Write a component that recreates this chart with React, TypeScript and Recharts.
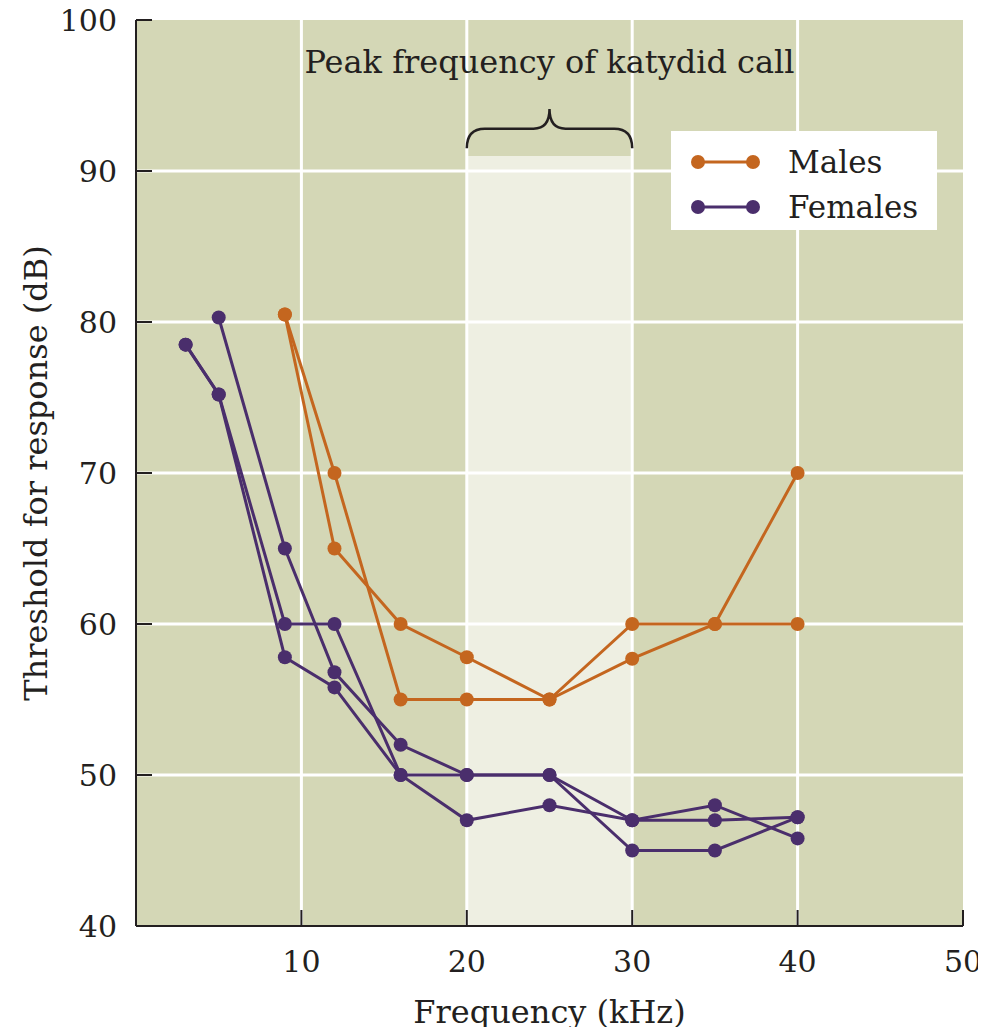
import { LineChart, Line, XAxis, YAxis, CartesianGrid, ReferenceArea } from 'recharts';

const FONT = '"DejaVu Serif", serif';
const INK = '#231f20';
const MALE_COLOR = '#c4661f';
const FEMALE_COLOR = '#4a2e6c';
const PLOT_BG = '#d4d7b6';

// frequency (kHz) / threshold (dB) for each run
const maleFreqs = [9, 12, 16, 20, 25, 30, 35, 40];
const maleRunA = [80.5, 70, 55, 55, 55, 57.7, 60, 70];
const maleRunB = [80.5, 65, 60, 57.8, 55, 60, 60, 60];

const femaleFreqsAB = [3, 5, 9, 12, 16, 20, 25, 30, 35, 40];
const femaleRunA = [78.5, 75.2, 60, 60, 50, 50, 50, 47, 48, 45.8];
const femaleRunB = [78.5, 75.2, 57.8, 55.8, 50, 47, 48, 47, 47, 47.2];
const femaleFreqsC = [5, 9, 12, 16, 20, 25, 30, 35, 40];
const femaleRunC = [80.3, 65, 56.8, 52, 50, 50, 45, 45, 47.2];

const xTicks = [10, 20, 30, 40, 50];
const yTicks = [40, 50, 60, 70, 80, 90, 100];
const gridX = [10, 20, 30, 40];
const gridY = [50, 60, 70, 80, 90];

// katydid call band
const peakBand = [20, 30];
const bandTop = 91;
const braceRange = [91.5, 94.1];

const legendItems = [
    { name: 'Males', color: MALE_COLOR },
    { name: 'Females', color: FEMALE_COLOR },
];

const toPoints = (freqs: number[], values: number[]) =>
    freqs.map((x, i) => ({ x, y: values[i] }));

const runs = [
    { key: 'm1', color: MALE_COLOR, data: toPoints(maleFreqs, maleRunA) },
    { key: 'm2', color: MALE_COLOR, data: toPoints(maleFreqs, maleRunB) },
    { key: 'f1', color: FEMALE_COLOR, data: toPoints(femaleFreqsAB, femaleRunA) },
    { key: 'f2', color: FEMALE_COLOR, data: toPoints(femaleFreqsAB, femaleRunB) },
    { key: 'f3', color: FEMALE_COLOR, data: toPoints(femaleFreqsC, femaleRunC) },
];

const W = 986;
const H = 1035;
const TICK_LEN = 16;
const X_MARGIN = 24;
const Y_MARGIN = 19;

const XTick = ({ x, y, payload }: any) => (
    <g>
        <line x1={x} x2={x} y1={y - X_MARGIN} y2={y - X_MARGIN - TICK_LEN} stroke={INK} strokeWidth={2} />
        <text x={x} y={y} dy="0.74em" textAnchor="middle" fontFamily={FONT} fontSize={30} fill={INK}>
            {payload.value}
        </text>
    </g>
);

const YTick = ({ x, y, payload }: any) => (
    <g>
        <line x1={x + Y_MARGIN} x2={x + Y_MARGIN + TICK_LEN} y1={y} y2={y} stroke={INK} strokeWidth={2} />
        <text x={x} y={y} dy="0.36em" textAnchor="end" fontFamily={FONT} fontSize={30} fill={INK}>
            {payload.value}
        </text>
    </g>
);

const Brace = ({ x, y, width, height }: any) => {
    const cx = x + width / 2;
    const mid = y + height / 2;
    const bottom = y + height;
    const d = `M${x},${bottom} Q${x},${mid} ${x + 18},${mid} L${cx - 16},${mid} Q${cx},${mid} ${cx},${y}`
        + ` Q${cx},${mid} ${cx + 16},${mid} L${x + width - 18},${mid} Q${x + width},${mid} ${x + width},${bottom}`;
    return (
        <g>
            <path d={d} fill="none" stroke={INK} strokeWidth={2.5} />
            <text x={cx} y={y - 36} textAnchor="middle" fontFamily={FONT} fontSize={32} fill={INK}>
                Peak frequency of katydid call
            </text>
        </g>
    );
};

export default function App() {
    return (
        <div style={{ position: 'relative', width: W, height: H, margin: -8 }}>
            <LineChart width={W} height={H} margin={{ top: 20, right: 23, left: 0, bottom: 0 }}>
                <CartesianGrid
                    fill={PLOT_BG}
                    fillOpacity={1}
                    stroke="#ffffff"
                    strokeWidth={3}
                    horizontalValues={gridY}
                    verticalValues={gridX}
                />
                <XAxis
                    type="number"
                    dataKey="x"
                    domain={[0, 50]}
                    ticks={xTicks}
                    height={109}
                    tickSize={0}
                    tickMargin={X_MARGIN}
                    tickLine={false}
                    tick={XTick}
                    axisLine={{ stroke: INK, strokeWidth: 2 }}
                    label={{
                        content: ({ viewBox }: any) => (
                            <text
                                x={viewBox.x + viewBox.width / 2}
                                y={1023}
                                textAnchor="middle"
                                fontFamily={FONT}
                                fontSize={32}
                                fill={INK}
                            >
                                Frequency (kHz)
                            </text>
                        ),
                    }}
                />
                <YAxis
                    type="number"
                    dataKey="y"
                    domain={[40, 100]}
                    ticks={yTicks}
                    width={136}
                    tickSize={0}
                    tickMargin={Y_MARGIN}
                    tickLine={false}
                    tick={YTick}
                    axisLine={{ stroke: INK, strokeWidth: 2 }}
                    label={{
                        content: ({ viewBox }: any) => {
                            const cy = viewBox.y + viewBox.height / 2;
                            return (
                                <text
                                    x={36}
                                    y={cy}
                                    transform={`rotate(-90, 36, ${cy})`}
                                    textAnchor="middle"
                                    dominantBaseline="central"
                                    fontFamily={FONT}
                                    fontSize={32}
                                    fill={INK}
                                >
                                    Threshold for response (dB)
                                </text>
                            );
                        },
                    }}
                />
                <ReferenceArea
                    x1={peakBand[0]}
                    x2={peakBand[1]}
                    y1={40}
                    y2={bandTop}
                    fill="#ffffff"
                    fillOpacity={0.6}
                    stroke="none"
                />
                <ReferenceArea
                    x1={peakBand[0]}
                    x2={peakBand[1]}
                    y1={braceRange[0]}
                    y2={braceRange[1]}
                    shape={Brace}
                />
                {runs.map((run) => (
                    <Line
                        key={run.key}
                        data={run.data}
                        dataKey="y"
                        stroke={run.color}
                        strokeWidth={3}
                        dot={{ r: 7, fill: run.color, stroke: run.color, strokeWidth: 0 }}
                        activeDot={false}
                        isAnimationActive={false}
                    />
                ))}
            </LineChart>

            {/* Legend */}
            <div
                style={{
                    position: 'absolute',
                    left: 671,
                    top: 131,
                    width: 266,
                    height: 99,
                    background: '#ffffff',
                }}
            >
                {legendItems.map((item, i) => (
                    <div
                        key={item.name}
                        style={{ position: 'absolute', left: 0, top: 14 + i * 45, height: 34, display: 'flex', alignItems: 'center' }}
                    >
                        <svg width={110} height={34}>
                            <line x1={27} x2={82} y1={17} y2={17} stroke={item.color} strokeWidth={3} />
                            <circle cx={27} cy={17} r={7} fill={item.color} />
                            <circle cx={82} cy={17} r={7} fill={item.color} />
                        </svg>
                        <span style={{ marginLeft: 7, fontFamily: FONT, fontSize: 31, color: INK, lineHeight: '34px' }}>
                            {item.name}
                        </span>
                    </div>
                ))}
            </div>
        </div>
    );
}
